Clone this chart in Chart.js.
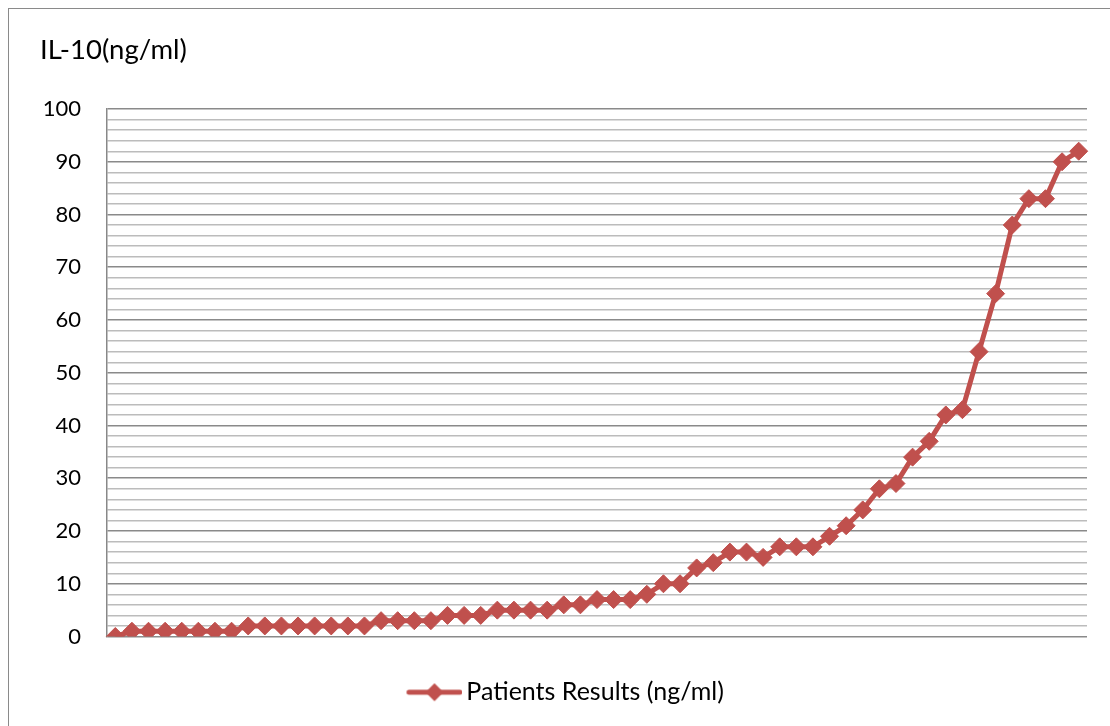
<!DOCTYPE html>
<html>
<head>
<meta charset="utf-8">
<script src="https://cdn.jsdelivr.net/npm/chart.js@4/dist/chart.umd.min.js"></script>
<style>
  html, body { margin: 0; padding: 0; background: #fff; overflow: hidden; }
  #frame { position: absolute; left: 8px; top: 8px; width: 1120px; height: 740px;
           border: 1.5px solid #8a8a8a; box-sizing: border-box; }
  #wrap { position: absolute; left: 0; top: 0; width: 1110px; height: 726px; }
</style>
</head>
<body>
<div id="frame"></div>
<div id="wrap"><canvas id="chart" width="1110" height="726"></canvas></div>
<script>
// Patients, sorted by IL-10 level
const patients = [1,2,3,4,5,6,7,8,9,10,11,12,13,14,15,16,17,18,19,20,
  21,22,23,24,25,26,27,28,29,30,31,32,33,34,35,36,37,38,39,40,
  41,42,43,44,45,46,47,48,49,50,51,52,53,54,55,56,57,58,59];
// IL-10 concentration (ng/ml)
const il10Results = [0,1,1,1,1,1,1,1,2,2,2,2,2,2,2,2,3,3,3,3,4,4,4,5,5,5,5,6,6,7,
  7,7,8,10,10,13,14,16,16,15,17,17,17,19,21,24,28,29,34,37,42,43,54,65,78,83,83,90,92];
const seriesName = 'Patients Results (ng/ml)';
const axisTitle = 'IL-10(ng/ml)';
const yTicks = [0,10,20,30,40,50,60,70,80,90,100];

const RED = '#C0504D';
const FONT = 'Lato, "Open Sans", sans-serif';

// legend symbol: short line with a diamond in the middle (left margin kept blank)
const sym = document.createElement('canvas');
sym.width = 68; sym.height = 22;
(function () {
  const c = sym.getContext('2d');
  c.strokeStyle = RED; c.lineWidth = 5; c.lineCap = 'round';
  c.beginPath(); c.moveTo(14.5, 11); c.lineTo(65.5, 11); c.stroke();
  c.fillStyle = RED;
  c.beginPath(); c.moveTo(40, 2); c.lineTo(49, 11); c.lineTo(40, 20); c.lineTo(31, 11); c.closePath(); c.fill();
})();

new Chart(document.getElementById('chart'), {
  type: 'line',
  data: {
    labels: patients,
    datasets: [{
      label: seriesName,
      data: il10Results,
      borderColor: RED,
      backgroundColor: RED,
      borderWidth: 5,
      pointStyle: 'rectRot',
      pointRadius: 9,
      pointBorderWidth: 1,
      pointBackgroundColor: RED,
      pointBorderColor: RED,
      tension: 0
    }]
  },
  options: {
    responsive: false,
    animation: false,
    layout: { padding: { left: 40, right: 23, top: 0, bottom: 11.3 } },
    scales: {
      x: {
        type: 'category',
        offset: true,
        display: false
      },
      y: {
        min: 0, max: 100,
        afterFit(scale) { scale.width = 67; },
        border: { display: true, color: '#888888', width: 1.5 },
        grid: {
          drawTicks: false,
          lineWidth: ctx => (ctx.tick && ctx.tick.value % 10 === 0) ? 1.6 : 1.4,
          color: ctx => (ctx.tick && ctx.tick.value % 10 === 0) ? '#8a8a8a' : '#bcbcbc'
        },
        ticks: {
          stepSize: 2,
          autoSkip: false,
          padding: 26,
          color: '#000',
          font: { family: FONT, size: 22 },
          callback: v => yTicks.includes(v) ? String(v) : ''
        }
      }
    },
    plugins: {
      title: {
        display: true,
        text: axisTitle,
        align: 'start',
        color: '#000',
        font: { family: FONT, size: 27.5, weight: 'normal' },
        padding: { top: 33.5, bottom: 42.5 }
      },
      legend: {
        display: true,
        position: 'bottom',
        labels: {
          usePointStyle: true,
          pointStyleWidth: 50.75,
          padding: 43.2,
          color: '#000',
          font: { family: FONT, size: 25 },
          generateLabels: chart => [{
            text: seriesName,
            pointStyle: sym,
            fillStyle: RED,
            strokeStyle: RED,
            lineWidth: 0,
            hidden: false,
            datasetIndex: 0
          }]
        }
      },
      tooltip: { enabled: false }
    }
  }
});
</script>
</body>
</html>
